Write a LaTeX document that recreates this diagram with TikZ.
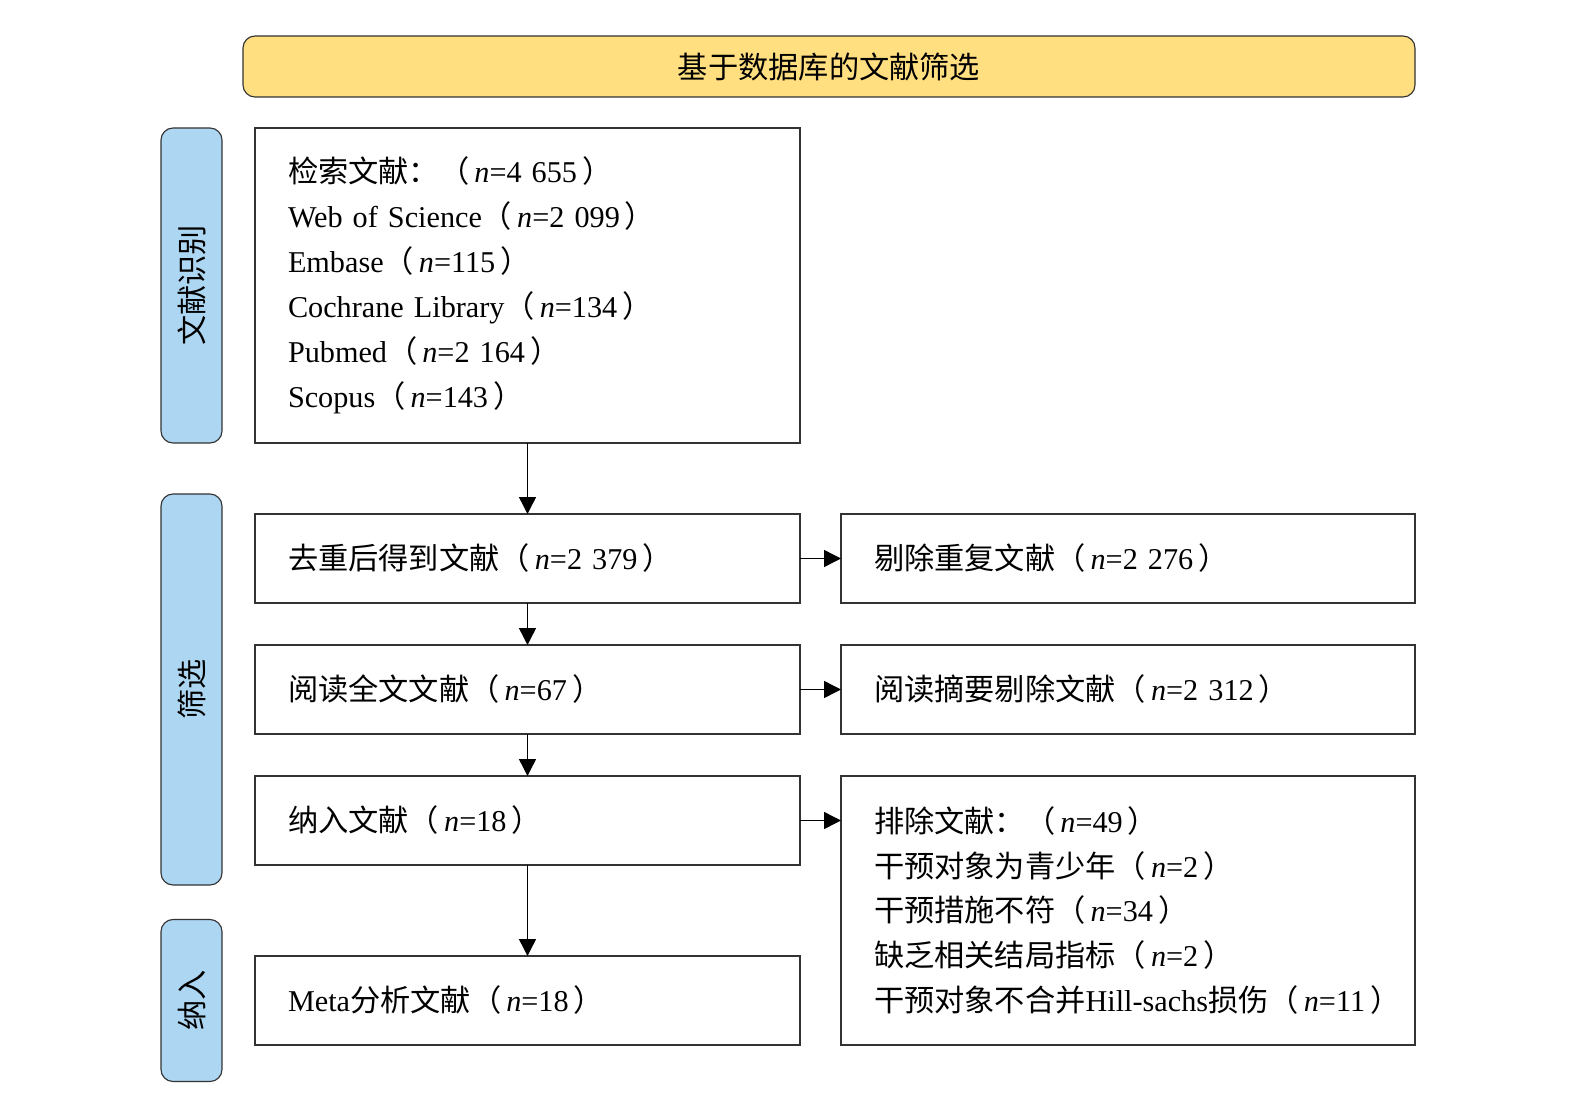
\documentclass[tikz,border=0pt]{standalone}
\usepackage{graphicx}
\usepackage{fontspec}
\setmainfont{Liberation Serif}
\newfontfamily\zh{Noto Sans CJK SC}
\usetikzlibrary{positioning,arrows.meta}
\definecolor{titleyellow}{RGB}{255,223,128}
\definecolor{sideblue}{RGB}{173,214,242}
\newcommand{\ncount}[1]{{\zh （}\,\textit{n}=#1\,{\zh ）}}

\begin{document}
\begin{tikzpicture}[
		node distance=1.025cm,
		every node/.style = {font=\fontsize{21.5}{32}\selectfont, outer sep=0pt},
		box/.style = {shape=rectangle, draw=black!80, line width=0.8pt,
			inner xsep=0.825cm, align=left},
		leftbox/.style = {box, minimum width=13.625cm, text width=11.975cm, minimum height=2.225cm},
		rightbox/.style = {box, minimum width=14.35cm, text width=12.7cm, minimum height=2.225cm},
		side/.style = {shape=rectangle, rounded corners=0.3cm, draw=black!80,
			line width=0.8pt, fill=sideblue, minimum width=1.525cm},
		titlebar/.style = {shape=rectangle, rounded corners=0.3cm, draw=black!80,
			line width=0.8pt, fill=titleyellow, minimum width=29.3cm, minimum height=1.525cm},
		flow/.style = {-{Triangle[length=12pt,width=12pt]}, line width=1pt}]
		\useasboundingbox (0,0) rectangle (39.775,-27.95);
		\node[titlebar] (title) at (20.725,-1.6625) {\zh 基于数据库的文献筛选};
		% left column
		\node[leftbox, minimum height=7.875cm, anchor=north west] (search) at (6.375,-3.2) {
			{\zh 检索文献：}\ncount{4~655}\\
			Web of Science\ncount{2~099}\\
			Embase\ncount{115}\\
			Cochrane Library\ncount{134}\\
			Pubmed\ncount{2~164}\\
			Scopus\ncount{143}};
		\node[leftbox, below=1.775cm of search] (dedup) {{\zh 去重后得到文献}\ncount{2~379}};
		\node[leftbox, below=1.05cm of dedup] (fulltext) {{\zh 阅读全文文献}\ncount{67}};
		\node[leftbox, below=1.05cm of fulltext] (included) {{\zh 纳入文献}\ncount{18}};
		\node[leftbox, below=2.275cm of included] (meta) {Meta{\zh 分析文献}\ncount{18}};
		% right column
		\node[rightbox, right=of dedup] (dup) {{\zh 剔除重复文献}\ncount{2~276}};
		\node[rightbox, right=of fulltext] (abstract) {{\zh 阅读摘要剔除文献}\ncount{2~312}};
		\node[rightbox, minimum height=6.725cm, right=of included.north east, anchor=north west] (excluded) {
			{\zh 排除文献：}\ncount{49}\\
			{\zh 干预对象为青少年}\ncount{2}\\
			{\zh 干预措施不符}\ncount{34}\\
			{\zh 缺乏相关结局指标}\ncount{2}\\
			\mbox{{\zh 干预对象不合并}Hill-sachs{\zh 损伤}\ncount{11}}};
		% stages
		\node[side, minimum height=7.875cm, left=0.825cm of search] (identify) {\rotatebox{90}{\zh 文献识别}};
		\node[side, minimum height=9.775cm, left=0.825cm of fulltext] (screen) {\rotatebox{90}{\zh 筛选}};
		\node[side, minimum height=4.05cm, left=0.825cm of meta] (include) {\rotatebox{90}{\zh 纳入}};
		% arrows
		\draw[flow] (search) -- (dedup);
		\draw[flow] (dedup) -- (fulltext);
		\draw[flow] (fulltext) -- (included);
		\draw[flow] (included) -- (meta);
		\draw[flow] (dedup) -- (dup);
		\draw[flow] (fulltext) -- (abstract);
		\draw[flow] (included.east) -- (included.east -| excluded.west);
	\end{tikzpicture}
\end{document}
